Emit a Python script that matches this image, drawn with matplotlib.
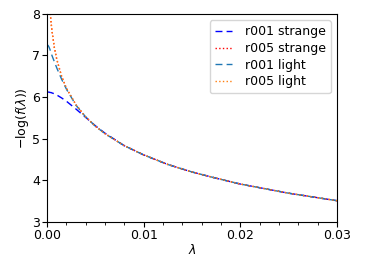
import matplotlib
matplotlib.use("Agg")
import matplotlib.pyplot as plt
from matplotlib.ticker import MultipleLocator

# lambda samples
lam = [0.0, 0.0001, 0.0002, 0.0003, 0.0004, 0.0005, 0.00075, 0.001, 0.0015,
       0.002, 0.003, 0.004, 0.005, 0.006, 0.008, 0.01, 0.0125, 0.015,
       0.0175, 0.02, 0.025, 0.03]

# -log(f(lambda)) per ensemble / quark
r005_strange = [None, 9.2, 8.52, 8.11, 7.82, 7.60, 7.19, 6.91, 6.50,
                6.21, 5.81, 5.52, 5.30, 5.12, 4.83, 4.61, 4.38, 4.20,
                4.05, 3.91, 3.69, 3.51]
r005_light = [None, 9.0, 8.45, 8.08, 7.80, 7.59, 7.18, 6.90, 6.50,
              6.21, 5.81, 5.52, 5.30, 5.12, 4.83, 4.61, 4.38, 4.20,
              4.05, 3.91, 3.69, 3.51]
r001_strange = [6.12, 6.12, 6.12, 6.11, 6.11, 6.10, 6.08, 6.05, 5.98,
                5.90, 5.71, 5.51, 5.31, 5.13, 4.83, 4.61, 4.38, 4.20,
                4.05, 3.91, 3.69, 3.51]
r001_light = [7.26, 7.24, 7.20, 7.14, 7.07, 7.00, 6.85, 6.70, 6.43,
              6.19, 5.80, 5.52, 5.30, 5.12, 4.83, 4.61, 4.38, 4.20,
              4.05, 3.91, 3.69, 3.51]


def clean(xs, ys):
    pts = [(x, y) for x, y in zip(xs, ys) if y is not None]
    return [p[0] for p in pts], [p[1] for p in pts]


fs = 9

fig = plt.figure(figsize=(3.74, 2.62), dpi=100)
ax = fig.add_axes([0.126, 0.153, 0.775, 0.794])

x, y = clean(lam, r001_strange)
ax.plot(x, y, color="blue", linestyle=(0, (5, 3)), lw=1.0, label="r001 strange")
x, y = clean(lam, r005_strange)
ax.plot(x, y, color="red", linestyle=":", lw=1.0, label="r005 strange")
x, y = clean(lam, r001_light)
ax.plot(x, y, color="tab:blue", linestyle=(0, (5, 3)), lw=1.0, label="r001 light")
x, y = clean(lam, r005_light)
ax.plot(x, y, color="tab:orange", linestyle=":", lw=1.0, label="r005 light")

ax.set_xlim(0, 0.03)
ax.set_ylim(3, 8)
ax.xaxis.set_major_locator(MultipleLocator(0.01))
ax.xaxis.set_minor_locator(MultipleLocator(0.002))
ax.yaxis.set_major_locator(MultipleLocator(1))
ax.tick_params(labelsize=fs, pad=1.5)
ax.set_xlabel(r"$\lambda$", fontsize=fs, labelpad=1)
ax.set_ylabel(r"$-\log(f(\lambda))$", fontsize=fs, labelpad=1)
ax.legend(loc="upper right", fontsize=fs, handlelength=1.4,
          borderaxespad=0.5, labelspacing=0.3, handletextpad=1.0)

fig.savefig("out.png", dpi=100)
